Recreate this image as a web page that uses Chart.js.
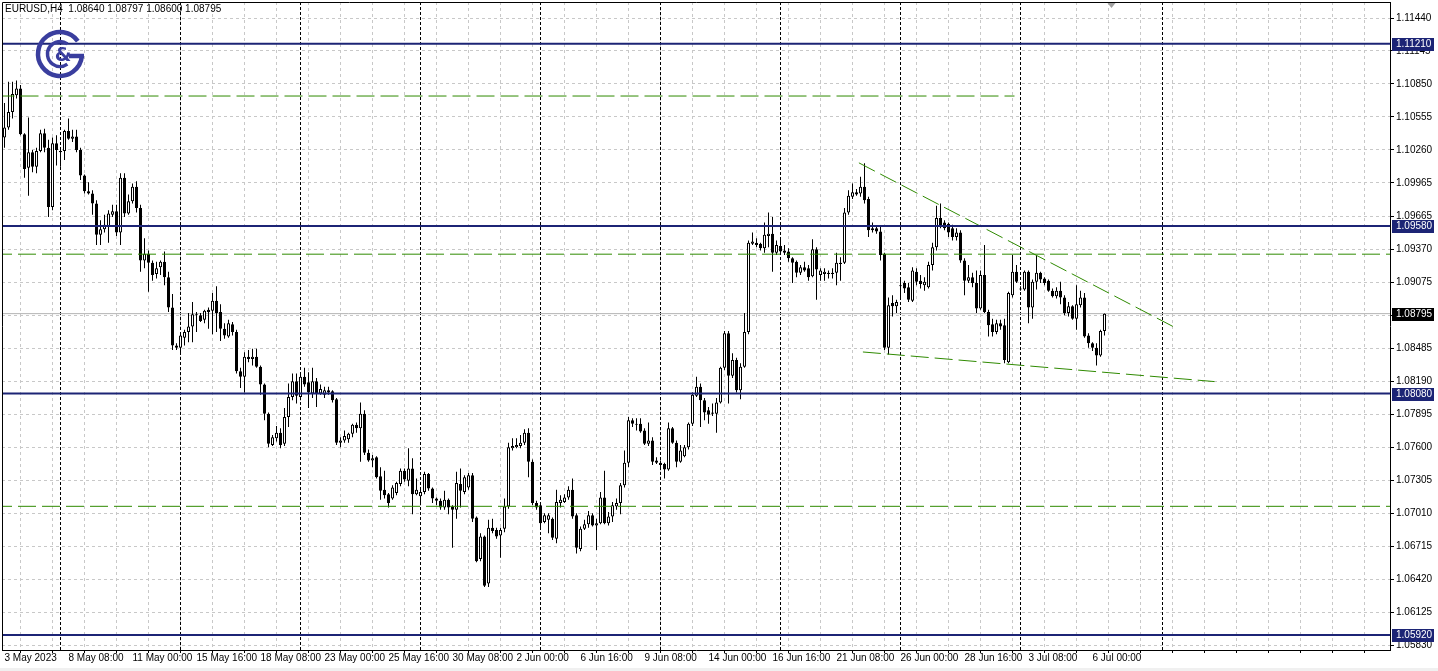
<!DOCTYPE html>
<html><head><meta charset="utf-8">
<script src="https://cdn.jsdelivr.net/npm/chart.js@4.4.0/dist/chart.umd.min.js"></script>
<style>
html,body{margin:0;padding:0;background:#fff;overflow:hidden;}
canvas{display:block;}
</style></head><body>
<canvas id="c" width="1438" height="671"></canvas>
<script>
const symbolName = 'EURUSD,H4';

const opens = [
1.1037,1.1046,1.1060,1.1075,1.1081,1.1040,1.1010,1.1024,1.1011,1.1025,
1.1041,1.1028,1.0975,1.1032,1.1024,1.1025,1.1043,1.1036,1.1038,1.1026,
1.1003,1.0989,1.0987,1.0978,1.0950,1.0955,1.0958,1.0968,1.0971,1.0952,
1.1001,1.0969,1.0980,1.0993,1.0974,1.0927,1.0933,1.0925,1.0915,1.0921,
1.0926,1.0912,1.0885,1.0851,1.0849,1.0858,1.0863,1.0868,1.0879,1.0878,
1.0874,1.0883,1.0882,1.0891,1.0881,1.0866,1.0859,1.0870,1.0863,1.0828,
1.0823,1.0841,1.0839,1.0841,1.0832,1.0816,1.0790,1.0762,1.0768,1.0773,
1.0763,1.0787,1.0805,1.0819,1.0805,1.0823,1.0818,1.0808,1.0819,1.0808,
1.0807,1.0811,1.0810,1.0803,1.0764,1.0766,1.0767,1.0772,1.0780,1.0777,
1.0790,1.0755,1.0748,1.0751,1.0734,1.0722,1.0718,1.0714,1.0719,1.0727,
1.0739,1.0730,1.0741,1.0718,1.0716,1.0720,1.0736,1.0723,1.0714,1.0712,
1.0706,1.0713,1.0707,1.0704,1.0727,1.0720,1.0724,1.0735,1.0697,1.0660,
1.0680,1.0638,1.0688,1.0686,1.0681,1.0687,1.0707,1.0759,1.0760,1.0761,
1.0764,1.0773,1.0747,1.0710,1.0708,1.0693,1.0695,1.0696,1.0678,1.0710,
1.0711,1.0715,1.0722,1.0699,1.0669,1.0687,1.0691,1.0699,1.0690,1.0692,
1.0715,1.0692,1.0698,1.0707,1.0710,1.0726,1.0746,1.0784,1.0780,1.0781,
1.0775,1.0763,1.0766,1.0748,1.0746,1.0745,1.0740,1.0777,1.0764,1.0747,
1.0752,1.0760,1.0781,1.0806,1.0814,1.0802,1.0793,1.0791,1.0790,1.0800,
1.0831,1.0862,1.0824,1.0838,1.0811,1.0832,1.0863,1.0942,1.0943,1.0942,
1.0938,1.0949,1.0951,1.0934,1.0940,1.0936,1.0935,1.0929,1.0926,1.0916,
1.0921,1.0920,1.0913,1.0937,1.0914,1.0915,1.0915,1.0915,1.0916,1.0924,
1.0925,1.0970,1.0984,1.0988,1.0987,1.0993,1.0982,1.0954,1.0956,1.0953,
1.0933,1.0849,1.0889,1.0886,1.0905,1.0907,1.0903,1.0891,1.0917,1.0909,
1.0905,1.0903,1.0923,1.0939,1.0965,1.0961,1.0960,1.0956,1.0948,1.0952,
1.0927,1.0909,1.0912,1.0907,1.0884,1.0914,1.0881,1.0870,1.0863,1.0871,
1.0869,1.0836,1.0896,1.0917,1.0902,1.0901,1.0917,1.0885,1.0908,1.0916,
1.0911,1.0909,1.0900,1.0895,1.0900,1.0894,1.0880,1.0886,1.0875,1.0887,
1.0894,1.0860,1.0853,1.0849,1.0842,1.08640
];
const highs = [
1.1068,1.1087,1.1087,1.1088,1.1084,1.1041,1.1055,1.1026,1.1028,1.1044,
1.1045,1.1035,1.1037,1.1039,1.1026,1.1044,1.1054,1.1044,1.1044,1.1028,
1.1004,1.0997,1.0990,1.0981,1.0963,1.0968,1.0972,1.0977,1.0977,1.1005,
1.1005,1.0986,1.0996,1.0998,1.0977,1.0947,1.0936,1.0927,1.0926,1.0927,
1.0935,1.0917,1.0897,1.0853,1.0862,1.0865,1.0880,1.0890,1.0881,1.0880,
1.0883,1.0885,1.0898,1.0904,1.0888,1.0871,1.0874,1.0872,1.0865,1.0831,
1.0845,1.0847,1.0848,1.0848,1.0833,1.0817,1.0791,1.0771,1.0779,1.0777,
1.0795,1.0817,1.0826,1.0826,1.0826,1.0831,1.0827,1.0831,1.0822,1.0816,
1.0814,1.0814,1.0811,1.0804,1.0769,1.0775,1.0773,1.0781,1.0782,1.0800,
1.0793,1.0758,1.0753,1.0752,1.0742,1.0739,1.0719,1.0726,1.0729,1.0741,
1.0741,1.0759,1.0750,1.0732,1.0724,1.0738,1.0737,1.0724,1.0715,1.0714,
1.0721,1.0714,1.0708,1.0738,1.0741,1.0735,1.0737,1.0737,1.0698,1.0683,
1.0681,1.0695,1.0696,1.0688,1.0688,1.0714,1.0764,1.0768,1.0768,1.0771,
1.0776,1.0777,1.0749,1.0712,1.0710,1.0701,1.0701,1.0697,1.0722,1.0717,
1.0718,1.0725,1.0732,1.0701,1.0689,1.0695,1.0703,1.0701,1.0696,1.0720,
1.0739,1.0702,1.0711,1.0714,1.0728,1.0757,1.0787,1.0786,1.0786,1.0786,
1.0777,1.0782,1.0769,1.0751,1.0748,1.0746,1.0782,1.0778,1.0766,1.0762,
1.0762,1.0782,1.0809,1.0823,1.0817,1.0804,1.0796,1.0799,1.0804,1.0832,
1.0864,1.0864,1.0844,1.0840,1.0835,1.0880,1.0945,1.0952,1.0947,1.0943,
1.0961,1.0970,1.0966,1.0945,1.0947,1.0941,1.0938,1.0930,1.0927,1.0923,
1.0926,1.0923,1.0946,1.0939,1.0920,1.0920,1.0918,1.0920,1.0934,1.0930,
1.0974,1.0990,1.0996,1.0991,1.1002,1.1014,1.0984,1.0961,1.0958,1.0957,
1.0934,1.0894,1.0896,1.0892,1.0911,1.0909,1.0907,1.0921,1.0920,1.0914,
1.0912,1.0926,1.0943,1.0976,1.0978,1.0963,1.0961,1.0959,1.0956,1.0954,
1.0929,1.0923,1.0916,1.0918,1.0918,1.0941,1.0883,1.0875,1.0874,1.0874,
1.0875,1.0899,1.0932,1.0923,1.0904,1.0918,1.0918,1.0910,1.0932,1.0917,
1.0912,1.0910,1.0902,1.0903,1.0908,1.0896,1.0890,1.0887,1.0905,1.0900,
1.0898,1.0862,1.0854,1.0853,1.0865,1.08797
];
const lows = [
1.1028,1.1044,1.1054,1.1072,1.1039,1.1001,1.0985,1.1006,1.1005,1.1024,
1.1024,1.0966,1.0972,1.1012,1.1011,1.1017,1.1035,1.1033,1.1024,1.0999,
1.0987,1.0986,1.0968,1.0941,1.0941,1.0952,1.0943,1.0966,1.0949,1.0941,
1.0966,1.0968,1.0978,1.0970,1.0917,1.0920,1.0899,1.0909,1.0911,1.0914,
1.0905,1.0881,1.0847,1.0847,1.0845,1.0851,1.0854,1.0854,1.0863,1.0872,
1.0871,1.0866,1.0861,1.0863,1.0855,1.0857,1.0858,1.0860,1.0826,1.0813,
1.0809,1.0836,1.0833,1.0831,1.0807,1.0784,1.0760,1.0761,1.0765,1.0759,
1.0761,1.0778,1.0802,1.0799,1.0802,1.0814,1.0795,1.0804,1.0796,1.0807,
1.0804,1.0807,1.0800,1.0762,1.0760,1.0764,1.0764,1.0769,1.0773,1.0747,
1.0753,1.0747,1.0742,1.0732,1.0713,1.0714,1.0706,1.0713,1.0717,1.0725,
1.0729,1.0725,1.0700,1.0717,1.0708,1.0718,1.0721,1.0710,1.0708,1.0704,
1.0704,1.0700,1.0670,1.0696,1.0706,1.0718,1.0722,1.0693,1.0657,1.0658,
1.0635,1.0635,1.0683,1.0678,1.0661,1.0684,1.0705,1.0757,1.0759,1.0759,
1.0762,1.0733,1.0708,1.0704,1.0688,1.0692,1.0683,1.0677,1.0674,1.0706,
1.0710,1.0713,1.0696,1.0665,1.0667,1.0686,1.0688,1.0689,1.0668,1.0691,
1.0691,1.0690,1.0693,1.0704,1.0700,1.0724,1.0742,1.0778,1.0775,1.0773,
1.0762,1.0761,1.0744,1.0745,1.0742,1.0732,1.0739,1.0763,1.0742,1.0746,
1.0751,1.0758,1.0779,1.0805,1.0778,1.0784,1.0781,1.0788,1.0773,1.0799,
1.0829,1.0799,1.0822,1.0809,1.0803,1.0831,1.0861,1.0941,1.0939,1.0936,
1.0934,1.0939,1.0917,1.0932,1.0932,1.0932,1.0926,1.0907,1.0912,1.0914,
1.0917,1.0909,1.0912,1.0892,1.0909,1.0909,1.0911,1.0911,1.0905,1.0909,
1.0924,1.0968,1.0982,1.0985,1.0984,1.0978,1.0948,1.0952,1.0951,1.0927,
1.0847,1.0843,1.0877,1.0880,1.0894,1.0898,1.0890,1.0890,1.0905,1.0902,
1.0900,1.0902,1.0918,1.0936,1.0956,1.0954,1.0948,1.0945,1.0945,1.0925,
1.0896,1.0907,1.0903,1.0880,1.0883,1.0880,1.0859,1.0859,1.0861,1.0865,
1.0835,1.0835,1.0894,1.0907,1.0900,1.0900,1.0871,1.0875,1.0901,1.0907,
1.0905,1.0899,1.0894,1.0893,1.0888,1.0878,1.0877,1.0874,1.0865,1.0885,
1.0858,1.0849,1.0846,1.0833,1.0841,1.08600
];
const closes = [
1.1046,1.1060,1.1076,1.1081,1.1040,1.1009,1.1024,1.1011,1.1025,1.1041,
1.1028,1.0975,1.1032,1.1026,1.1025,1.1043,1.1036,1.1038,1.1026,1.1003,
1.0989,1.0987,1.0978,1.0950,1.0955,1.0959,1.0969,1.0971,1.0952,1.1001,
1.0969,1.0980,1.0993,1.0974,1.0927,1.0933,1.0925,1.0914,1.0920,1.0926,
1.0912,1.0885,1.0851,1.0849,1.0860,1.0863,1.0868,1.0879,1.0878,1.0873,
1.0882,1.0881,1.0891,1.0880,1.0866,1.0860,1.0871,1.0863,1.0828,1.0823,
1.0841,1.0839,1.0841,1.0832,1.0816,1.0790,1.0763,1.0769,1.0773,1.0762,
1.0787,1.0805,1.0819,1.0806,1.0823,1.0816,1.0809,1.0819,1.0808,1.0812,
1.0811,1.0809,1.0802,1.0764,1.0766,1.0770,1.0772,1.0780,1.0777,1.0790,
1.0755,1.0748,1.0750,1.0733,1.0721,1.0717,1.0710,1.0724,1.0728,1.0739,
1.0731,1.0741,1.0718,1.0722,1.0720,1.0736,1.0723,1.0714,1.0712,1.0706,
1.0713,1.0706,1.0704,1.0728,1.0721,1.0733,1.0735,1.0696,1.0658,1.0680,
1.0636,1.0688,1.0685,1.0680,1.0686,1.0707,1.0760,1.0761,1.0762,1.0764,
1.0773,1.0747,1.0710,1.0706,1.0692,1.0699,1.0699,1.0679,1.0711,1.0713,
1.0715,1.0722,1.0698,1.0670,1.0687,1.0691,1.0699,1.0690,1.0692,1.0715,
1.0692,1.0698,1.0708,1.0710,1.0726,1.0746,1.0784,1.0781,1.0781,1.0774,
1.0763,1.0766,1.0747,1.0746,1.0744,1.0740,1.0777,1.0764,1.0747,1.0757,
1.0760,1.0781,1.0807,1.0814,1.0802,1.0791,1.0789,1.0790,1.0800,1.0831,
1.0862,1.0824,1.0838,1.0811,1.0832,1.0863,1.0943,1.0944,1.0941,1.0938,
1.0950,1.0951,1.0934,1.0941,1.0935,1.0934,1.0929,1.0925,1.0916,1.0921,
1.0918,1.0912,1.0937,1.0919,1.0918,1.0917,1.0916,1.0916,1.0925,1.0925,
1.0970,1.0985,1.0988,1.0986,1.0993,1.0981,1.0954,1.0956,1.0953,1.0932,
1.0849,1.0887,1.0886,1.0890,1.0904,1.0902,1.0892,1.0918,1.0908,1.0906,
1.0908,1.0923,1.0939,1.0965,1.0958,1.0956,1.0952,1.0948,1.0952,1.0927,
1.0909,1.0912,1.0907,1.0884,1.0914,1.0881,1.0869,1.0863,1.0871,1.0868,
1.0838,1.0898,1.0917,1.0908,1.0901,1.0917,1.0885,1.0908,1.0916,1.0910,
1.0907,1.0900,1.0895,1.0900,1.0894,1.0880,1.0886,1.0875,1.0888,1.0894,
1.0859,1.0853,1.0849,1.0842,1.0864,1.08795
];

// time axis labels (bar index -> text)
const timeLabelBars = [0,16,32,48,64,80,96,112,128,144,160,176,192,208,224,240,256,272];
const timeLabels = ['3 May 2023','8 May 08:00','11 May 00:00','15 May 16:00','18 May 08:00','23 May 00:00',
  '25 May 16:00','30 May 08:00','2 Jun 00:00','6 Jun 16:00','9 Jun 08:00','14 Jun 00:00',
  '16 Jun 16:00','21 Jun 08:00','26 Jun 00:00','28 Jun 16:00','3 Jul 08:00','6 Jul 00:00'];
// price axis labels
const priceTicks = [1.11440,1.11145,1.10850,1.10555,1.10260,1.09965,1.09665,1.09370,1.09075,1.08780,
  1.08485,1.08190,1.07895,1.07600,1.07305,1.07010,1.06715,1.06420,1.06125,1.05830];
// week separators (bar index of Monday 00:00)
const weekStarts = [14,44,74,104,134,164,194,224,254];
const extraVLines = [289.4];
// horizontal levels
const blueLevels = [1.11210,1.09580,1.08080,1.05920];
const greenLevels = [1.09327,1.07071];
const greenSegment = {fromBar:-2, toBar:252.5, value:1.10742};
const trendUpper = [{bar:213.6,value:1.10144},{bar:292.5,value:1.08673}];
const trendLower = [{bar:214.6,value:1.08452},{bar:302.5,value:1.08187}];
const currentPrice = closes[closes.length-1];

// axis ranges
const xMin = -0.625, xMax = 346.375;
const yMin = 1.057855, yMax = 1.115832;

const FONT = "'Liberation Sans', Arial, sans-serif";
Chart.defaults.font.family = FONT;
Chart.defaults.font.size = 10;
Chart.defaults.color = '#000';

const N = Math.min(opens.length, highs.length, lows.length, closes.length);
const wickData = [], bodyData = [], bodyColors = [];
for (let i = 0; i < N; i++) {
  wickData.push({x:i, y:[lows[i], highs[i]]});
  bodyData.push({x:i, y:[opens[i], closes[i]]});
  bodyColors.push(closes[i] >= opens[i] ? '#ffffff' : '#000000');
}
const gridBars = [];
for (let b = 0; b <= 344; b += 8) gridBars.push(b);

function hLine(v, color, width, dash, order, from, to) {
  return {type:'line', data:[{x:from===undefined?xMin-2:from, y:v},{x:to===undefined?xMax+2:to, y:v}],
    borderColor:color, borderWidth:width, borderDash:dash||[], pointRadius:0, order:order, tension:0, fill:false};
}
const NAVY = '#1c2475', GREEN = '#2f8a00';
const datasets = [
  {type:'bar', label:'wicks', data:wickData, backgroundColor:'#000', borderWidth:0, barThickness:1,
   grouped:false, order:3, inflateAmount:0},
  {type:'bar', label:'bodies', data:bodyData, backgroundColor:bodyColors, borderColor:'#000', borderWidth:1,
   borderSkipped:false, barThickness:3, grouped:false, order:2, inflateAmount:0, minBarLength:1},
  hLine(currentPrice, '#b4b4b4', 1, [], 5),
];
blueLevels.forEach(v => datasets.push(hLine(v, NAVY, 2, [], 0)));
greenLevels.forEach(v => datasets.push(hLine(v, GREEN, 1, [18,6], 0)));
datasets.push(hLine(greenSegment.value, GREEN, 1, [18,6], 0, greenSegment.fromBar, greenSegment.toBar));
[trendUpper, trendLower].forEach(t => datasets.push({type:'line',
  data:t.map(p => ({x:p.bar, y:p.value})), borderColor:GREEN, borderWidth:1, borderDash:[18,6],
  pointRadius:0, order:0, tension:0, fill:false}));

const decor = {
  id:'decor',
  beforeDatasetsDraw(chart) {
    const {ctx, chartArea:a, scales:{x}} = chart;
    ctx.save();
    ctx.strokeStyle = '#000'; ctx.lineWidth = 1; ctx.setLineDash([3,2]);
    weekStarts.concat(extraVLines).forEach(b => {
      const px = Math.round(x.getPixelForValue(b) - 0.5) + 0.5;
      ctx.beginPath(); ctx.moveTo(px, a.top); ctx.lineTo(px, a.bottom); ctx.stroke();
    });
    ctx.restore();
  },
  afterDatasetsDraw(chart) {
    const {ctx} = chart;
    ctx.save();
    // logo
    const cx = 60, cy = 54;
    ctx.strokeStyle = '#3a3e9e'; ctx.fillStyle = '#3a3e9e';
    ctx.lineWidth = 4.5;
    ctx.beginPath(); ctx.arc(cx, cy, 22, -0.2*Math.PI, 0.03*Math.PI, true); ctx.stroke();
    ctx.beginPath(); ctx.moveTo(cx+9, cy+2); ctx.lineTo(cx+24, cy+2); ctx.stroke();
    ctx.lineWidth = 3.5;
    ctx.beginPath(); ctx.arc(cx, cy, 12.5, -0.3*Math.PI, 0.3*Math.PI, true); ctx.stroke();
    ctx.font = "bold 19px 'DejaVu Sans'"; ctx.textAlign = 'center'; ctx.textBaseline = 'middle';
    ctx.fillText('&', cx+3, cy+2);
    // header
    const last = N - 1;
    ctx.fillStyle = '#000'; ctx.font = '10px ' + FONT; ctx.textAlign = 'left';
    ctx.fillText(symbolName + '  ' + opens[last].toFixed(5) + ' ' + highs[last].toFixed(5) + ' ' +
      lows[last].toFixed(5) + ' ' + closes[last].toFixed(5), 5, 9);
    ctx.restore();
  },
  afterDraw(chart) {
    const {ctx, chartArea:a, scales:{x, y}} = chart;
    ctx.save();
    // frame
    ctx.strokeStyle = '#000'; ctx.lineWidth = 1;
    ctx.beginPath(); ctx.moveTo(a.left+0.5, a.bottom); ctx.lineTo(a.left+0.5, a.top+0.5); ctx.lineTo(a.right, a.top+0.5); ctx.stroke();
    // price boxes
    const box = (v, bg) => {
      const py = Math.round(y.getPixelForValue(v));
      ctx.fillStyle = bg; ctx.fillRect(a.right+2, py-6, 42, 13);
      ctx.fillStyle = '#fff'; ctx.font = '10px ' + FONT; ctx.textAlign = 'left'; ctx.textBaseline = 'middle';
      ctx.fillText(v.toFixed(5), a.right+6, py+0.5);
    };
    blueLevels.forEach(v => box(v, NAVY));
    box(currentPrice, '#000');
    // shift marker
    const tx = Math.round(x.getPixelForValue(N + 0.5)) + 0.5;
    ctx.fillStyle = '#a0a0a0';
    ctx.beginPath(); ctx.moveTo(tx-4, a.top+1); ctx.lineTo(tx+4, a.top+1); ctx.lineTo(tx, a.top+6); ctx.closePath(); ctx.fill();
    // window strip
    ctx.fillStyle = '#f0f0f0'; ctx.fillRect(0, 668, 1438, 3);
    ctx.restore();
  }
};

new Chart(document.getElementById('c'), {
  type:'bar',
  data:{datasets},
  options:{
    responsive:false, animation:false, devicePixelRatio:1,
    layout:{padding:{left:2, top:2, right:0, bottom:0}},
    plugins:{legend:{display:false}, tooltip:{enabled:false}},
    scales:{
      x:{type:'linear', min:xMin, max:xMax, offset:false,
        afterBuildTicks:s => { s.ticks = gridBars.map(v => ({value:v})); },
        afterFit:s => { s.height = 21; s.paddingLeft = 0; s.paddingRight = 0; },
        ticks:{autoSkip:false, maxRotation:0, minRotation:0, align:'start', padding:-1, labelOffset:0,
          color:'#000', font:{family:FONT, size:10},
          callback:(v) => { const k = timeLabelBars.indexOf(v); return k >= 0 ? timeLabels[k] : ''; }},
        grid:{color:'#c8c8c8', lineWidth:1, drawTicks:true, tickLength:3, tickColor:'#000', tickBorderDash:[]},
        border:{display:true, color:'#000', width:1, dash:[3,3]}
      },
      y:{type:'linear', position:'right', min:yMin, max:yMax,
        afterBuildTicks:s => { s.ticks = priceTicks.map(v => ({value:v})); },
        afterFit:s => { s.width = 48; s.paddingTop = 0; s.paddingBottom = 0; },
        ticks:{autoSkip:false, padding:2, color:'#000', font:{family:FONT, size:10},
          callback:(v) => Number(v).toFixed(5)},
        grid:{color:'#c8c8c8', lineWidth:1, drawTicks:true, tickLength:4, tickColor:'#000', tickBorderDash:[]},
        border:{display:true, color:'#000', width:1, dash:[3,3]}
      }
    }
  },
  plugins:[decor]
});
</script>
</body></html>
